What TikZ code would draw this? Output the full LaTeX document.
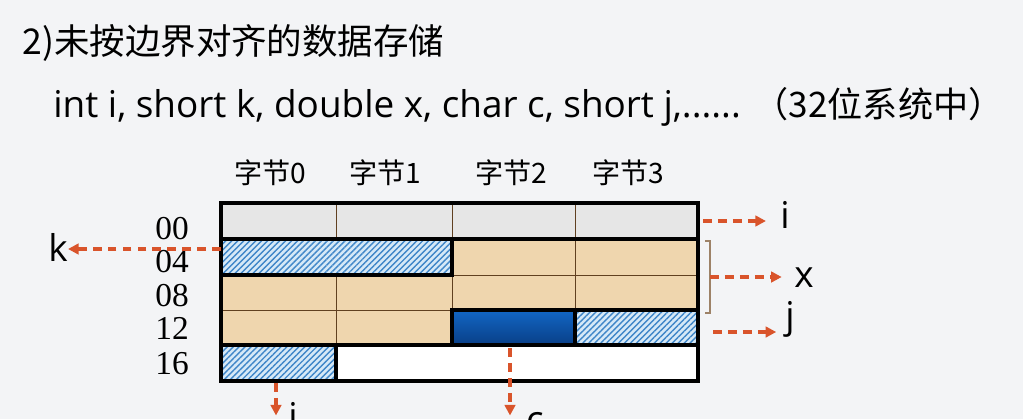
\documentclass[tikz,border=0pt]{standalone}
\usepackage{fontspec}
\setmainfont{Open Sans}
\newfontfamily\cjk{Noto Sans CJK SC}
\newfontfamily\addrfont{Liberation Serif}
\usetikzlibrary{arrows.meta,patterns.meta,calc}
\definecolor{bgColor}{HTML}{F3F4F6}
\definecolor{ptrColor}{HTML}{D9542B}
\definecolor{tanColor}{HTML}{EFD6AE}
\definecolor{grayColor}{HTML}{E6E6E6}
\definecolor{hatchBg}{HTML}{D6E9F7}
\definecolor{hatchLn}{HTML}{3F86C8}
\definecolor{cTop}{HTML}{1266C4}
\definecolor{cBot}{HTML}{093F87}
\tikzset{
	thick box/.style={draw=black, line width=2.2pt},
	thin line/.style={draw=black!50!brown, line width=0.5pt},
	hatch/.style={fill=hatchBg, postaction={pattern={Lines[angle=45,distance=2.4pt,line width=0.8pt]}, pattern color=hatchLn}},
	ptr/.style={draw=ptrColor, line width=1.8pt, dash pattern=on 5pt off 3.5pt, -{Triangle[length=6pt,width=6pt]}},
	hdr/.style={font=\cjk\fontsize{16}{16}\selectfont, anchor=base, inner sep=0pt},
	addr/.style={font=\addrfont\fontsize{19}{19}\selectfont, anchor=base, inner sep=0pt},
	lab/.style={font=\fontsize{21}{21}\selectfont, anchor=base, inner sep=0pt}
}

\begin{document}
\begin{tikzpicture}[x=0.02cm, y=-0.02cm]
\fill[bgColor] (0,0) rectangle (1023,419);
\useasboundingbox (0,0) rectangle (1023,419);
\node[anchor=base west, inner sep=0, font=\cjk\fontsize{20.2}{21}\selectfont] (title) at (22,54) {2)未按边界对齐的数据存储};
\node[anchor=base west, inner sep=0, font=\fontsize{21}{21}\selectfont] (decl) at (53,117) {int i, short k, double x, char c, short j,...... {\cjk\fontsize{20}{20}\selectfont （32位系统中）}};
\foreach \cx/\n in {270/0,385/1,511/2,628/3}
	\node[hdr] (b\n) at (\cx,183) {字节\n};
\foreach \ay/\a in {239/00,272/04,306/08,339/12,374/16}
	\node[addr] (a\a) at (172,\ay) {\a};
% memory cells
\fill[grayColor] (221,203) rectangle (698,239);
\fill[tanColor] (452,239) rectangle (698,275);
\fill[tanColor] (221,275) rectangle (698,310);
\fill[tanColor] (221,310) rectangle (452,345);
\foreach \cx in {336,452,575}
	\draw[thin line] (\cx,203) -- (\cx,239);
\draw[thin line] (575,239) -- (575,310);
\draw[thin line] (452,275) -- (452,310);
\draw[thin line] (336,275) -- (336,345);
\draw[thin line] (452,275) -- (698,275);
\draw[thin line] (221,310) -- (452,310);
\path[hatch] (221,239) rectangle (452,275);
\draw[thick box] (221,239) rectangle (452,275);
\shade[top color=cTop, bottom color=cBot] (452,310) rectangle (575,345);
\draw[thick box] (452,310) rectangle (575,345);
\path[hatch] (575,310) rectangle (698,345);
\draw[thick box] (575,310) rectangle (698,345);
\fill[white] (221,345) rectangle (698,381);
\path[hatch] (221,345) rectangle (336,381);
\draw[thick box] (221,345) rectangle (336,381);
\draw[thick box] (221,345) rectangle (698,381);
\draw[thick box] (221,203) rectangle (698,381);
\draw[thick box] (221,239) -- (698,239);
% pointers
\coordinate (iR) at (703,221);
\coordinate (xB) at (710,277);
\coordinate (jR) at (713,332);
\coordinate (kL) at (221,249);
\coordinate (iB) at (276,383);
\coordinate (cB) at (510,348);
\draw[draw=black!40!brown!70, line width=0.6pt] (705,241) -- (710,241) -- (710,313) -- (705,313);
\node[lab] (li) at (785,228) {i};
\node[lab] (lx) at (804,287) {x};
\node[lab] (lj) at (790,328) {j};
\node[lab] (lk) at (58,261) {k};
\node[lab] (lbi) at (293,429) {i};
\node[lab] (lc) at (535,432) {c};
\draw[ptr, shorten >=8pt] (iR) -- (iR -| li.west);
\draw[ptr, shorten >=7pt] (xB) -- (xB -| lx.west);
\draw[ptr, shorten >=5pt] (jR) -- (jR -| lj.west);
\draw[ptr] (kL) -- (kL -| lk.east);
\draw[ptr] (iB) -- (iB |- lbi.center);
\draw[ptr] (cB) -- (cB |- lbi.center);
\end{tikzpicture}
\end{document}
